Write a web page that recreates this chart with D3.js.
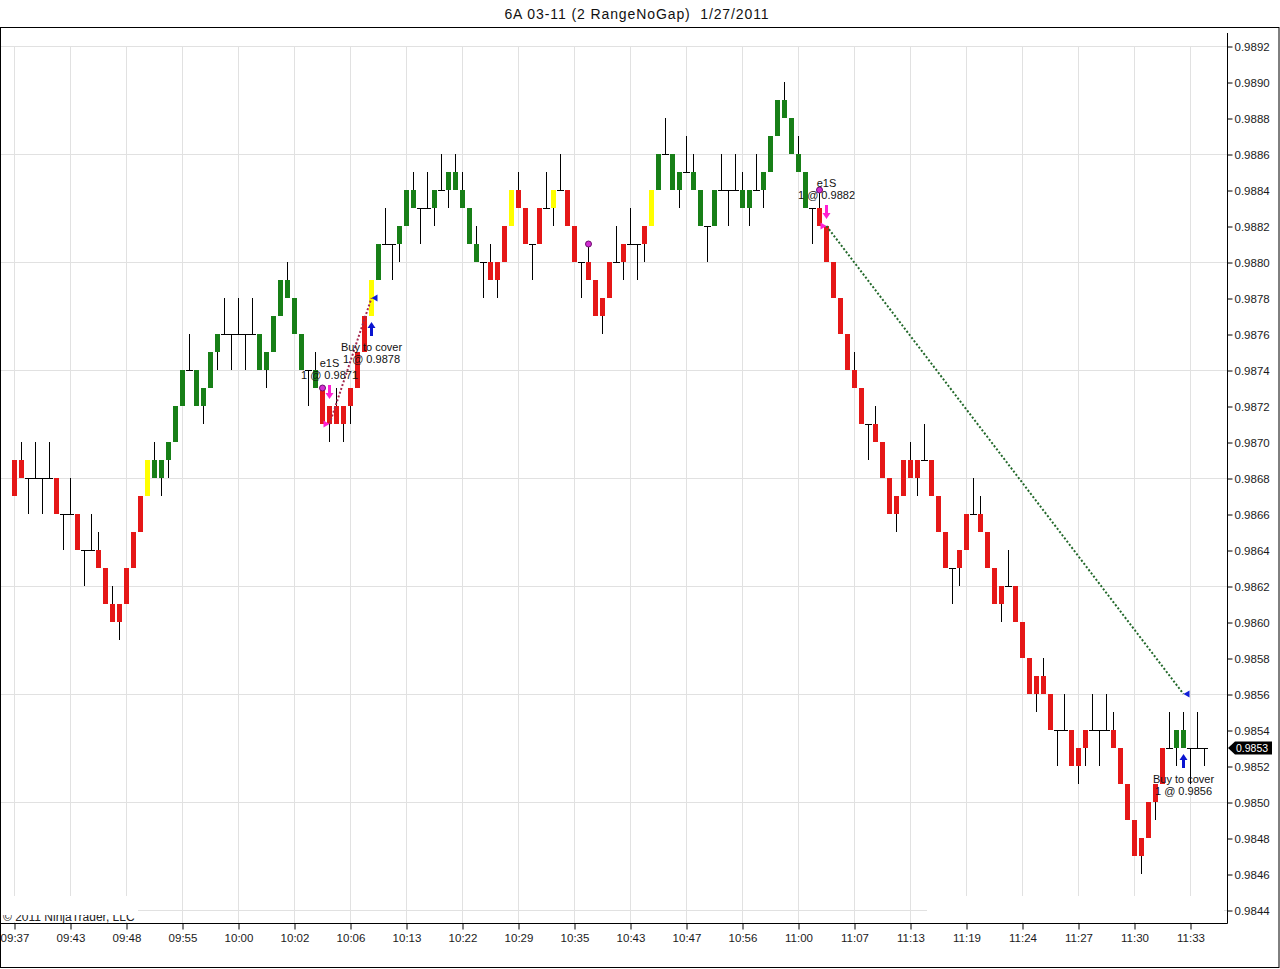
<!DOCTYPE html>
<meta charset="utf-8">
<style>
body { margin: 0; background: #fff; }
svg { display: block; font-family: Arial, 'Liberation Sans', sans-serif; }
.axis .domain { display: none; }
.axis line { stroke: #000; }
.axis text { fill: #1a1a1a; font-size: 11.5px; }
.grid line { stroke: #e1e1e1; }
.note { font-size: 11px; fill: #111; }
</style>
<body>
<script src="https://d3js.org/d3.v7.min.js"></script>
<script>
var title = '6A 03-11 (2 RangeNoGap)  1/27/2011'

// 2-tick range bars, prices in pips (price = pips / 10000)
var barOpen = [
    9869, 9869, 9868, 9868, 9868, 9868, 9868, 9866, 9866, 9866,
    9864, 9864, 9864, 9863, 9861, 9861, 9863, 9865, 9867, 9867,
    9868, 9868, 9869, 9870, 9872, 9874, 9872, 9872, 9873, 9875,
    9876, 9876, 9876, 9876, 9876, 9874, 9874, 9875, 9877, 9878,
    9876, 9874, 9874, 9873, 9873, 9872, 9872, 9872, 9873, 9875,
    9877, 9877, 9879, 9881, 9881, 9881, 9882, 9883, 9883, 9883,
    9883, 9884, 9884, 9884, 9883, 9881, 9880, 9880, 9880, 9880,
    9882, 9882, 9884, 9883, 9881, 9883, 9883, 9883, 9884, 9884,
    9882, 9880, 9880, 9879, 9878, 9880, 9880, 9881, 9881, 9881,
    9882, 9882, 9884, 9886, 9884, 9884, 9885, 9884, 9882, 9882,
    9882, 9884, 9884, 9884, 9883, 9883, 9884, 9884, 9885, 9887,
    9888, 9886, 9885, 9883, 9883, 9883, 9882, 9880, 9878, 9876,
    9874, 9873, 9871, 9871, 9870, 9868, 9867, 9869, 9869, 9869,
    9869, 9869, 9867, 9865, 9863, 9864, 9866, 9866, 9866, 9865,
    9863, 9862, 9862, 9862, 9860, 9858, 9857, 9857, 9856, 9854,
    9854, 9854, 9853, 9854, 9854, 9854, 9854, 9854, 9853, 9851,
    9849, 9848, 9850, 9851, 9853, 9853, 9853, 9853, 9853, 9853,
    9853
]
var barHigh = [
    9869, 9870, 9868, 9870, 9868, 9870, 9868, 9866, 9868, 9866,
    9864, 9866, 9865, 9863, 9862, 9861, 9863, 9865, 9867, 9869,
    9870, 9869, 9870, 9872, 9874, 9876, 9874, 9873, 9875, 9876,
    9878, 9876, 9878, 9876, 9878, 9876, 9875, 9877, 9879, 9880,
    9878, 9876, 9874, 9875, 9873, 9872, 9873, 9872, 9873, 9875,
    9877, 9879, 9881, 9883, 9881, 9882, 9884, 9885, 9883, 9885,
    9884, 9886, 9885, 9886, 9885, 9883, 9882, 9880, 9881, 9880,
    9882, 9884, 9885, 9883, 9881, 9883, 9885, 9884, 9886, 9884,
    9882, 9880, 9881, 9879, 9878, 9880, 9882, 9881, 9883, 9881,
    9882, 9884, 9886, 9888, 9886, 9885, 9887, 9886, 9884, 9882,
    9884, 9886, 9884, 9886, 9885, 9884, 9886, 9885, 9887, 9889,
    9890, 9888, 9887, 9885, 9883, 9884, 9882, 9880, 9878, 9876,
    9875, 9873, 9871, 9872, 9870, 9868, 9867, 9869, 9870, 9869,
    9871, 9869, 9867, 9865, 9863, 9864, 9866, 9868, 9867, 9865,
    9863, 9862, 9864, 9862, 9860, 9858, 9857, 9858, 9856, 9854,
    9856, 9854, 9853, 9854, 9856, 9854, 9856, 9855, 9853, 9851,
    9849, 9848, 9850, 9851, 9853, 9855, 9854, 9855, 9853, 9855,
    9853
]
var barLow = [
    9867, 9868, 9866, 9868, 9866, 9868, 9866, 9864, 9866, 9864,
    9862, 9864, 9863, 9861, 9860, 9859, 9861, 9863, 9865, 9867,
    9868, 9867, 9868, 9870, 9872, 9874, 9872, 9871, 9873, 9874,
    9876, 9874, 9876, 9874, 9876, 9874, 9873, 9875, 9877, 9878,
    9876, 9874, 9872, 9873, 9871, 9870, 9871, 9870, 9871, 9873,
    9875, 9877, 9879, 9881, 9879, 9880, 9882, 9883, 9881, 9883,
    9882, 9884, 9883, 9884, 9883, 9881, 9880, 9878, 9879, 9878,
    9880, 9882, 9883, 9881, 9879, 9881, 9883, 9882, 9884, 9882,
    9880, 9878, 9879, 9877, 9876, 9878, 9880, 9879, 9881, 9879,
    9880, 9882, 9884, 9886, 9884, 9883, 9885, 9884, 9882, 9880,
    9882, 9884, 9882, 9884, 9883, 9882, 9884, 9883, 9885, 9887,
    9888, 9886, 9885, 9883, 9881, 9882, 9880, 9878, 9876, 9874,
    9873, 9871, 9869, 9870, 9868, 9866, 9865, 9867, 9868, 9867,
    9869, 9867, 9865, 9863, 9861, 9862, 9864, 9866, 9865, 9863,
    9861, 9860, 9862, 9860, 9858, 9856, 9855, 9856, 9854, 9852,
    9854, 9852, 9851, 9852, 9854, 9852, 9854, 9853, 9851, 9849,
    9847, 9846, 9848, 9849, 9851, 9853, 9852, 9853, 9851, 9853,
    9852
]
var barClose = [
    9867, 9868, 9868, 9868, 9868, 9868, 9866, 9866, 9866, 9864,
    9864, 9864, 9863, 9861, 9860, 9860, 9861, 9863, 9865, 9869,
    9869, 9869, 9870, 9872, 9874, 9874, 9874, 9873, 9875, 9876,
    9876, 9876, 9876, 9876, 9876, 9876, 9875, 9877, 9879, 9879,
    9878, 9876, 9874, 9874, 9871, 9871, 9871, 9871, 9872, 9873,
    9875, 9879, 9881, 9881, 9881, 9882, 9884, 9884, 9883, 9883,
    9884, 9884, 9885, 9885, 9884, 9883, 9881, 9880, 9879, 9879,
    9880, 9884, 9883, 9881, 9881, 9881, 9883, 9884, 9884, 9882,
    9880, 9880, 9879, 9877, 9877, 9878, 9880, 9880, 9881, 9881,
    9881, 9884, 9886, 9886, 9886, 9885, 9885, 9885, 9884, 9882,
    9884, 9884, 9884, 9884, 9884, 9884, 9884, 9885, 9887, 9889,
    9889, 9888, 9886, 9885, 9883, 9882, 9880, 9878, 9876, 9874,
    9873, 9871, 9871, 9870, 9868, 9866, 9866, 9867, 9868, 9868,
    9869, 9867, 9865, 9863, 9863, 9863, 9864, 9866, 9865, 9863,
    9861, 9861, 9862, 9860, 9858, 9856, 9856, 9856, 9854, 9854,
    9854, 9852, 9852, 9853, 9854, 9854, 9854, 9853, 9851, 9849,
    9847, 9847, 9848, 9850, 9851, 9853, 9854, 9854, 9853, 9853,
    9853
]
// r = red, g = green, y = yellow, d = doji (black)
var barColor = [
    'rrddddrddr', 'ddrrrrrrry', 'gggggdgggg', 'dddddggggg', 'ggdgrrrrrr',
    'rygddgggdd', 'gdgggggdrr', 'ryrrdrdydr', 'rdrrrrdrdd', 'rygdggdggd',
    'gdddggdggg', 'ggggdrrrrr', 'rrdrrrrrrr', 'drrrdrrdrr', 'rrdrrrrrrd',
    'drrrdddrrr', 'rrrrrdggdd', 'd'
].join('').split('')

var timeLabels = ['09:37', '09:43', '09:48', '09:55', '10:00', '10:02', '10:06', '10:13',
    '10:22', '10:29', '10:35', '10:43', '10:47', '10:56', '11:00', '11:07',
    '11:13', '11:19', '11:24', '11:27', '11:30', '11:33']
var timeLabelBars = [1, 9, 17, 25, 33, 41, 49, 57, 65, 73, 81, 89, 97, 105, 113, 121,
    129, 137, 145, 153, 161, 169]

var trades = [
    { entryBar: 46, entryPrice: 0.9871, exitBar: 52, exitPrice: 0.9878, lineColor: '#a5284f' },
    { entryBar: 117, entryPrice: 0.9882, exitBar: 168, exitPrice: 0.9856, lineColor: '#22682a' }
]
var signalDotBars = [45, 83, 116]

var colors = { r: '#e51717', g: '#177f17', y: '#ffff00' }

var width = 1280
var height = 969
var plotRight = 1227
var plotTop = 33
var plotBottom = 923

var bars = barOpen.map(function (o, i) {
    return {
        index: i + 1,
        open: o / 10000,
        high: barHigh[i] / 10000,
        low: barLow[i] / 10000,
        close: barClose[i] / 10000,
        color: barColor[i]
    }
})

var x = d3.scaleLinear()
    .domain([1, bars.length])
    .range([14, 14 + 7 * (bars.length - 1)])

var y = d3.scaleLinear()
    .domain([0.9844, 0.9892])
    .range([910, 46])

var priceTicks = d3.range(25).map(function (k) { return +(0.9844 + k * 0.0002).toFixed(4) })
var gridPrices = priceTicks.filter(function (p, k) { return k % 3 === 0 })

var svg = d3.select('body')
    .append('svg')
    .attr('width', width)
    .attr('height', height)

svg.append('text')
    .attr('x', 637)
    .attr('y', 19)
    .attr('text-anchor', 'middle')
    .style('font-size', '14px')
    .style('letter-spacing', '0.9px')
    .style('white-space', 'pre')
    .style('fill', '#111')
    .text(title)

svg.append('rect')
    .attr('x', 0.5).attr('y', 27.5)
    .attr('width', width - 1.5).attr('height', height - 29)
    .attr('fill', 'none')
    .attr('stroke', '#000')

// grid
var grid = svg.append('g').attr('class', 'grid')
grid.selectAll('.h').data(gridPrices).join('line')
    .attr('x1', 1).attr('x2', plotRight)
    .attr('y1', function (d) { return Math.round(y(d)) + 0.5 })
    .attr('y2', function (d) { return Math.round(y(d)) + 0.5 })
grid.selectAll('.v').data(timeLabelBars).join('line')
    .attr('x1', function (d) { return Math.round(x(d)) + 0.5 })
    .attr('x2', function (d) { return Math.round(x(d)) + 0.5 })
    .attr('y1', y(0.9892)).attr('y2', plotBottom)

// faded copyright strip and bottom-right blank box
var clip = svg.append('clipPath').attr('id', 'copy-clip')
clip.append('rect').attr('x', 0).attr('y', 915).attr('width', 140).attr('height', 8)
svg.append('rect').attr('x', 1).attr('y', 896).attr('width', 137).attr('height', 26).attr('fill', '#fff')
svg.append('rect').attr('x', 927).attr('y', 896).attr('width', 297).attr('height', 26).attr('fill', '#fff')
svg.append('text')
    .attr('x', 3).attr('y', 921)
    .attr('clip-path', 'url(#copy-clip)')
    .style('font-size', '12px')
    .style('fill', '#222')
    .text('\u00a9 2011 NinjaTrader, LLC')

// bars
var barG = svg.append('g').attr('class', 'bars')
    .selectAll('g')
    .data(bars)
    .join('g')
    .attr('transform', function (d) { return 'translate(' + Math.round(x(d.index)) + ',0)' })

barG.append('line')
    .attr('x1', 0.5).attr('x2', 0.5)
    .attr('y1', function (d) { return y(d.high) })
    .attr('y2', function (d) { return y(d.low) })
    .attr('stroke', '#000')

barG.filter(function (d) { return d.color === 'd' })
    .append('line')
    .attr('x1', -3).attr('x2', 4)
    .attr('y1', function (d) { return y(d.open) + 0.5 })
    .attr('y2', function (d) { return y(d.open) + 0.5 })
    .attr('stroke', '#000')

barG.filter(function (d) { return d.color !== 'd' })
    .append('rect')
    .attr('x', -2)
    .attr('width', 5)
    .attr('y', function (d) { return y(Math.max(d.open, d.close)) })
    .attr('height', function (d) { return Math.abs(y(d.open) - y(d.close)) })
    .attr('fill', function (d) { return colors[d.color] })

// axes
svg.append('line')
    .attr('x1', 1).attr('x2', plotRight + 0.5)
    .attr('y1', plotBottom + 0.5).attr('y2', plotBottom + 0.5)
    .attr('stroke', '#000')
svg.append('line')
    .attr('x1', plotRight + 0.5).attr('x2', plotRight + 0.5)
    .attr('y1', plotTop).attr('y2', plotBottom + 0.5)
    .attr('stroke', '#000')

svg.append('g')
    .attr('class', 'axis x')
    .attr('transform', 'translate(0.5,' + (plotBottom + 0.5) + ')')
    .call(d3.axisBottom(x)
        .tickValues(timeLabelBars)
        .tickFormat(function (d, i) { return timeLabels[i] })
        .tickSize(6)
        .tickPadding(4))

svg.append('g')
    .attr('class', 'axis y')
    .attr('transform', 'translate(' + (plotRight + 0.5) + ',0.5)')
    .call(d3.axisRight(y)
        .tickValues(priceTicks)
        .tickFormat(d3.format('.4f'))
        .tickSize(5)
        .tickPadding(2))

// trade markers
var notes = svg.append('g')

signalDotBars.forEach(function (b) {
    notes.append('circle')
        .attr('cx', Math.round(x(b)) + 0.5)
        .attr('cy', y(bars[b - 1].high))
        .attr('r', 3)
        .attr('fill', '#d22cd2')
        .attr('stroke', '#6b0f6b')
})

function arrow(cx, tip, dir) {
    // dir 1 points down, -1 points up
    var tail = tip - dir * 14
    var neck = tip - dir * 6
    return 'M' + (cx - 1.5) + ',' + tail + 'L' + (cx + 1.5) + ',' + tail +
        'L' + (cx + 1.5) + ',' + neck + 'L' + (cx + 4) + ',' + neck +
        'L' + cx + ',' + tip + 'L' + (cx - 4) + ',' + neck +
        'L' + (cx - 1.5) + ',' + neck + 'Z'
}

trades.forEach(function (t) {
    var ex = Math.round(x(t.entryBar)) + 0.5
    var xx = Math.round(x(t.exitBar)) + 0.5
    var ey = y(t.entryPrice)
    var xy = y(t.exitPrice)

    notes.append('line')
        .attr('x1', ex).attr('y1', ey)
        .attr('x2', xx).attr('y2', xy)
        .attr('stroke', t.lineColor)
        .attr('stroke-width', 2)
        .attr('stroke-dasharray', '2,2')

    notes.append('path')
        .attr('d', 'M' + ex + ',' + ey + 'L' + (ex - 6) + ',' + (ey - 3.5) + 'L' + (ex - 6) + ',' + (ey + 3.5) + 'Z')
        .attr('fill', '#ff1fd2')
    notes.append('path')
        .attr('d', 'M' + xx + ',' + xy + 'L' + (xx + 6) + ',' + (xy - 3.5) + 'L' + (xx + 6) + ',' + (xy + 3.5) + 'Z')
        .attr('fill', '#1020d8')

    var downTip = y(bars[t.entryBar - 1].high) - 7
    notes.append('path')
        .attr('d', arrow(ex, downTip, 1))
        .attr('fill', '#ff1fd2')
    var upTip = y(bars[t.exitBar - 1].low) + 6
    notes.append('path')
        .attr('d', arrow(xx, upTip, -1))
        .attr('fill', '#0a14d0')

    notes.append('text').attr('class', 'note')
        .attr('x', ex).attr('y', downTip - 14 - 18)
        .attr('text-anchor', 'middle')
        .text('e1S')
    notes.append('text').attr('class', 'note')
        .attr('x', ex).attr('y', downTip - 14 - 6)
        .attr('text-anchor', 'middle')
        .text('1 @ ' + t.entryPrice.toFixed(4))
    notes.append('text').attr('class', 'note')
        .attr('x', xx).attr('y', upTip + 14 + 15)
        .attr('text-anchor', 'middle')
        .text('Buy to cover')
    notes.append('text').attr('class', 'note')
        .attr('x', xx).attr('y', upTip + 14 + 27)
        .attr('text-anchor', 'middle')
        .text('1 @ ' + t.exitPrice.toFixed(4))
})

// last price marker
var last = bars[bars.length - 1].close
var ly = y(last)
svg.append('path')
    .attr('d', 'M' + (plotRight + 1) + ',' + ly + 'L' + (plotRight + 8) + ',' + (ly - 6.5) +
        'L' + (plotRight + 45) + ',' + (ly - 6.5) + 'L' + (plotRight + 45) + ',' + (ly + 6.5) +
        'L' + (plotRight + 8) + ',' + (ly + 6.5) + 'Z')
    .attr('fill', '#000')
svg.append('text')
    .attr('x', plotRight + 9)
    .attr('y', ly + 4)
    .style('font-size', '10.5px')
    .style('fill', '#fff')
    .text(d3.format('.4f')(last))
</script>
</body>
